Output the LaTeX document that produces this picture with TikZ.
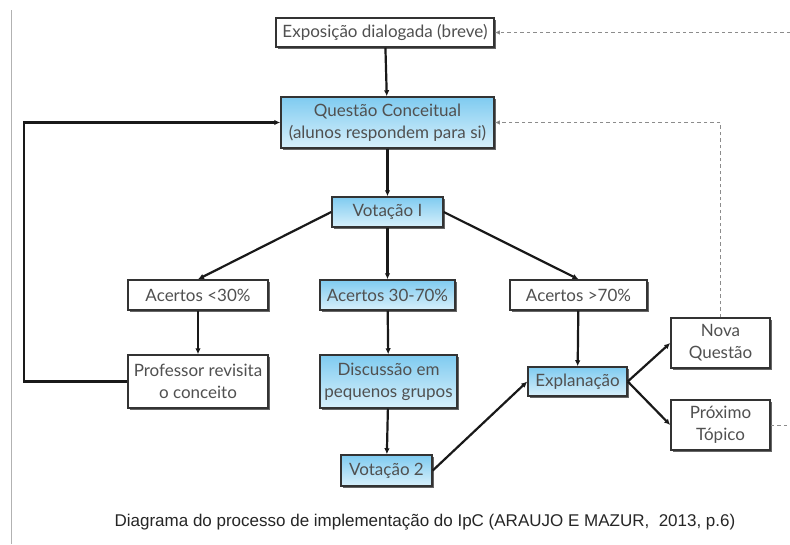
\documentclass[tikz,border=0pt]{standalone}
\usepackage{fontspec}
\setmainfont{Lato}
\newfontfamily\capfont{Liberation Sans}
\usetikzlibrary{shadows,arrows.meta}
\definecolor{txt}{HTML}{505050}
\definecolor{bluetop}{HTML}{7FCBF0}
\definecolor{bluebot}{HTML}{D8F0FB}
\begin{document}
\begin{tikzpicture}[x=1pt,y=-1pt,
  box/.style={draw=black!80, line width=1.5pt, fill=white, text=txt,
    font=\fontsize{17}{22}\selectfont, align=center, inner sep=0pt,
    drop shadow={shadow xshift=1.5pt, shadow yshift=-2.2pt, fill=black!75, opacity=.8}},
  bluebox/.style={box, top color=bluetop, bottom color=bluebot},
  arr/.style={line width=2.2pt, black!90, -{Latex[length=6pt,width=5.5pt]}},
  dsh/.style={line width=1pt, black!45, dash pattern=on 3.5pt off 3pt},
  dsharr/.style={dsh, -{Latex[length=5pt,width=4.5pt,fill=black!80]}}]
\useasboundingbox (0,0) rectangle (790,544);
\fill[white] (0,0) rectangle (790,544);
\draw[black!30, line width=1pt] (11,10) -- (11,544);

\node[box, minimum width=218pt, minimum height=29pt] (expo) at (385,32.5) {Exposição dialogada (breve)};
\node[bluebox, minimum width=213pt, minimum height=51pt] (qc) at (387.5,122.5) {Questão Conceitual\\(alunos respondem para si)};
\node[bluebox, minimum width=111pt, minimum height=30pt] (v1) at (387.5,212) {Votação I};
\node[box, minimum width=140pt, minimum height=30pt] (a1) at (198,295) {Acertos <30\%};
\node[bluebox, minimum width=135pt, minimum height=30pt] (a2) at (387.5,295) {Acertos 30-70\%};
\node[box, minimum width=137pt, minimum height=30pt] (a3) at (578.5,295) {Acertos >70\%};
\node[box, minimum width=140pt, minimum height=53pt] (prof) at (198,381.5) {Professor revisita\\o conceito};
\node[bluebox, minimum width=137pt, minimum height=53pt] (disc) at (388.5,381.5) {Discussão em\\pequenos grupos};
\node[bluebox, minimum width=91pt, minimum height=31pt] (v2) at (386.5,470.5) {Votação 2};
\node[bluebox, minimum width=99pt, minimum height=29pt] (expl) at (577.5,381.5) {Explanação};
\node[box, minimum width=99pt, minimum height=50pt] (nq) at (720.5,343) {Nova\\Questão};
\node[box, minimum width=99pt, minimum height=50pt] (pt) at (720.5,425) {Próximo\\Tópico};

\node[font=\capfont\fontsize{17}{20}\selectfont, text=black!85] (cap) at (425,522) {Diagrama do processo de implementação do IpC (ARAUJO E MAZUR,\ \ 2013, p.6)};

\coordinate (lc) at (24,381.5);
\coordinate (rt) at (790,32.5);
\coordinate (rb) at (790,425);

\draw[arr] (expo) -- (qc);
\draw[arr] (qc) -- (v1);
\draw[arr] (v1) -- (a2);
\draw[arr] (v1.west) -- (a1.north);
\draw[arr] (v1.east) -- (a3.north);
\draw[arr] (a1) -- (prof);
\draw[arr] (a2) -- (disc);
\draw[arr] (disc) -- (v2);
\draw[arr] (v2.east) -- (expl.west);
\draw[arr] (a3) -- (expl);
\draw[arr] (expl.east) -- (nq.west);
\draw[arr] (expl.east) -- (pt.west);
\draw[arr] (prof.west) -- (lc) |- (qc.west);

\draw[dsharr] (rt) -- (expo.east);
\draw[dsharr] (nq.north) |- (qc.east);
\draw[dsh] (pt.east) -- (rb);
\end{tikzpicture}
\end{document}
